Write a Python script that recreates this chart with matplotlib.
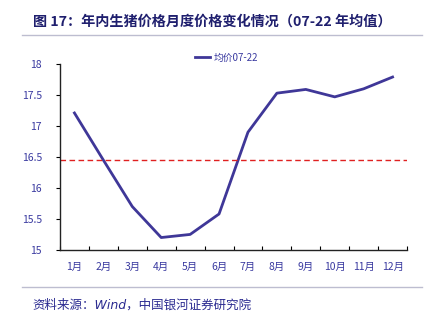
import matplotlib
matplotlib.use("Agg")
import matplotlib.pyplot as plt
from matplotlib.lines import Line2D

plt.rcParams['font.family'] = ['Noto Sans CJK SC', 'DejaVu Sans']

# 月度均价（元/公斤）
months = ['1月', '2月', '3月', '4月', '5月', '6月', '7月', '8月', '9月', '10月', '11月', '12月']
avg_price = [17.21, 16.45, 15.70, 15.20, 15.25, 15.58, 16.90, 17.53, 17.59, 17.47, 17.60, 17.79]
overall_mean = 16.45

navy = '#1F1F6E'
line_color = '#3F3798'
tick_color = '#3A3AA0'

fig = plt.figure(figsize=(4.41, 3.25), dpi=100)
ax = fig.add_axes([0.136, 0.231, 0.787, 0.572])

x = list(range(len(months)))
ax.plot(x, avg_price, color=line_color, lw=2.0, label='均价07-22')
ax.axhline(overall_mean, color='#E02020', lw=1.0, ls=(0, (4, 2.5)))

ax.set_xlim(-0.5, len(months) - 0.5)
ax.set_ylim(15, 18)
ax.set_yticks([15, 15.5, 16, 16.5, 17, 17.5, 18])
ax.set_yticklabels(['15', '15.5', '16', '16.5', '17', '17.5', '18'])
ax.set_xticks(x)
ax.set_xticklabels(months)
ax.set_xticks([i - 0.5 for i in range(len(months) + 1)], minor=True)
ax.tick_params(axis='x', which='major', length=0, pad=9, labelsize=7.5, labelcolor=tick_color)
ax.tick_params(axis='x', which='minor', direction='in', length=3, width=0.8)
ax.tick_params(axis='y', direction='out', length=3, width=0.8, labelsize=7.5,
               labelcolor=tick_color, pad=10)

for side in ['top', 'right']:
    ax.spines[side].set_visible(False)
for side in ['left', 'bottom']:
    ax.spines[side].set_linewidth(1.0)
    ax.spines[side].set_color('#222222')

fig.legend(handles=[Line2D([0], [0], color=line_color, lw=2.0)], labels=['均价07-22'],
           loc='center', bbox_to_anchor=(0.513, 0.822), frameon=False,
           fontsize=7, handlelength=1.6, handletextpad=0.3, labelcolor=tick_color)

# 标题与来源
fig.text(0.074, 0.935, '图 17：年内生猪价格月度价格变化情况（07-22 年均值）',
         fontsize=10.2, fontweight='bold', color=navy, va='center', ha='left')
fig.add_artist(Line2D([0.05, 0.957], [0.893, 0.893], color='#BDBDD0', lw=1.0))
fig.add_artist(Line2D([0.05, 0.957], [0.117, 0.117], color='#BDBDD0', lw=1.0))
fig.text(0.074, 0.062, '资料来源：Wind，中国银河证券研究院', fontsize=9,
         style='italic', color='#2A2A90', va='center', ha='left',
         family=['DejaVu Sans', 'Noto Sans CJK SC'])

fig.savefig('out.png', dpi=100)
